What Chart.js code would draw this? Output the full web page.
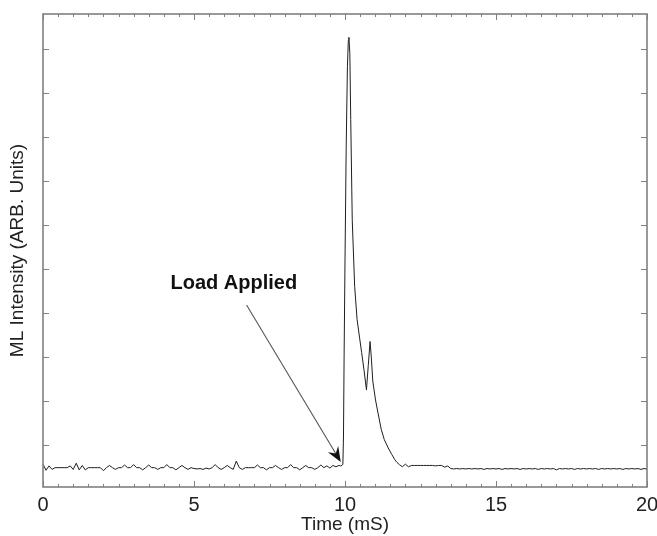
<!DOCTYPE html>
<html>
<head>
<meta charset="utf-8">
<script src="https://cdn.jsdelivr.net/npm/chart.js@4"></script>
<style>
  html, body { margin: 0; padding: 0; background: #fff; }
  #wrap { width: 657px; height: 536px; }
</style>
</head>
<body>
<div id="wrap"><canvas id="mlChart"></canvas></div>
<script>
// Sampled every 0.1 mS before the load and after the decay.
const sampleStep = 0.1;
const preLoadStart = 0;
const preLoadValues = [
  0.56, 0.42, 0.52, 0.44, 0.48, 0.48, 0.48, 0.48, 0.48, 0.52,
  0.44, 0.58, 0.43, 0.53, 0.43, 0.48, 0.48, 0.48, 0.48, 0.48,
  0.41, 0.48, 0.53, 0.48, 0.44, 0.48, 0.48, 0.54, 0.48, 0.48,
  0.55, 0.48, 0.48, 0.43, 0.48, 0.54, 0.48, 0.48, 0.44, 0.48,
  0.48, 0.55, 0.48, 0.48, 0.43, 0.48, 0.53, 0.48, 0.44, 0.48,
  0.46, 0.45, 0.46, 0.44, 0.47, 0.45, 0.48, 0.55, 0.48, 0.44,
  0.48, 0.53, 0.48, 0.44, 0.63, 0.48, 0.44, 0.48, 0.48, 0.48,
  0.48, 0.54, 0.48, 0.48, 0.43, 0.48, 0.48, 0.53, 0.48, 0.44,
  0.48, 0.48, 0.55, 0.48, 0.48, 0.43, 0.48, 0.53, 0.48, 0.48,
  0.44, 0.48, 0.54, 0.48, 0.52, 0.47, 0.53, 0.50, 0.53,
];

// The burst itself, uneven spacing.
const peakTimes = [
  9.85, 9.90, 9.93, 9.95, 9.97, 10.00, 10.04, 10.08, 10.11, 10.13,
  10.16, 10.19, 10.24, 10.32, 10.40, 10.48, 10.55, 10.63, 10.71, 10.77,
  10.83, 10.87, 10.92, 11.01, 11.10, 11.20, 11.30, 11.43, 11.55, 11.65, 11.72,
];
const peakValues = [
  0.52, 0.53, 0.56, 1.2, 3.0, 5.2, 7.8, 9.6, 10.2, 10.27,
  9.9, 8.4, 6.12, 4.6, 3.85, 3.45, 3.1, 2.7, 2.25, 2.8,
  3.35, 3.0, 2.45, 2.02, 1.7, 1.35, 1.12, 0.93, 0.78, 0.66, 0.6,
];

const postStart = 11.8;
const postValues = [
  0.55, 0.50, 0.56, 0.50, 0.53, 0.53, 0.53, 0.53, 0.53, 0.53,
  0.53, 0.53, 0.52, 0.53, 0.53, 0.49, 0.52, 0.46, 0.45, 0.46,
  0.45, 0.46, 0.45, 0.46, 0.45, 0.46, 0.45, 0.46, 0.44, 0.46,
  0.45, 0.46, 0.45, 0.46, 0.44, 0.46, 0.45, 0.46, 0.45, 0.46,
  0.44, 0.46, 0.45, 0.46, 0.45, 0.46, 0.44, 0.46, 0.45, 0.46,
  0.45, 0.46, 0.43, 0.46, 0.45, 0.46, 0.45, 0.46, 0.44, 0.46,
  0.45, 0.46, 0.45, 0.46, 0.45, 0.46, 0.44, 0.46, 0.45, 0.46,
  0.45, 0.46, 0.45, 0.46, 0.44, 0.46, 0.45, 0.46, 0.45, 0.46,
  0.44, 0.46, 0.45,
];

const xMajorTicks = [0, 5, 10, 15, 20];
const xMinorTicks = [
  0.5, 1, 1.5, 2, 2.5, 3, 3.5, 4, 4.5,
  5.5, 6, 6.5, 7, 7.5, 8, 8.5, 9, 9.5,
  10.5, 11, 11.5, 12, 12.5, 13, 13.5, 14, 14.5,
  15.5, 16, 16.5, 17, 17.5, 18, 18.5, 19, 19.5,
];
const yTicks = [1, 2, 3, 4, 5, 6, 7, 8, 9, 10];

// Annotation anchors in data units (time, intensity).
const labelText = 'Load Applied';
const labelAt = [6.32, 4.68];
const arrowFrom = [6.74, 4.18];
const arrowTo = [9.86, 0.61];

const toPoints = (start, values) =>
  values.map((v, i) => ({ x: +(start + i * sampleStep).toFixed(2), y: v }));

const signal = [
  ...toPoints(preLoadStart, preLoadValues),
  ...peakTimes.map((t, i) => ({ x: t, y: peakValues[i] })),
  ...toPoints(postStart, postValues),
];

const frameColor = '#808080';
const fontFamily = '"Liberation Sans", Arial, Helvetica, sans-serif';

const crisp = (v) => Math.round(v) + 0.5;

const frameAndTicks = {
  id: 'frameAndTicks',
  afterDatasetsDraw: (chart) => {
    const { ctx, chartArea: a, scales } = chart;
    const x = scales.x;
    const y = scales.y;
    ctx.save();
    ctx.strokeStyle = frameColor;
    ctx.lineWidth = 1;
    ctx.beginPath();
    const tickX = (t, len) => {
      const px = crisp(x.getPixelForValue(t));
      ctx.moveTo(px, a.bottom);
      ctx.lineTo(px, a.bottom - len);
      ctx.moveTo(px, a.top);
      ctx.lineTo(px, a.top + len);
    };
    xMinorTicks.forEach((t) => tickX(t, 3));
    xMajorTicks.forEach((t) => tickX(t, 6));
    yTicks.forEach((v) => {
      const py = crisp(y.getPixelForValue(v));
      ctx.moveTo(a.left, py);
      ctx.lineTo(a.left + 6, py);
      ctx.moveTo(a.right, py);
      ctx.lineTo(a.right - 6, py);
    });
    ctx.stroke();
    ctx.lineWidth = 1.6;
    ctx.strokeRect(a.left, a.top, a.right - a.left, a.bottom - a.top);
    ctx.restore();
  },
};

const loadArrow = {
  id: 'loadArrow',
  afterDatasetsDraw: (chart) => {
    const { ctx, scales } = chart;
    const x = scales.x;
    const y = scales.y;
    const x0 = x.getPixelForValue(arrowFrom[0]);
    const y0 = y.getPixelForValue(arrowFrom[1]);
    const x1 = x.getPixelForValue(arrowTo[0]);
    const y1 = y.getPixelForValue(arrowTo[1]);
    const ang = Math.atan2(y1 - y0, x1 - x0);
    const headLen = 15;
    const headHalf = 6;
    ctx.save();
    ctx.strokeStyle = '#555';
    ctx.lineWidth = 1.1;
    ctx.beginPath();
    ctx.moveTo(x0, y0);
    ctx.lineTo(x1 - Math.cos(ang) * 8, y1 - Math.sin(ang) * 8);
    ctx.stroke();
    // notched arrow head
    const bx = x1 - Math.cos(ang) * headLen;
    const by = y1 - Math.sin(ang) * headLen;
    const nx = x1 - Math.cos(ang) * headLen * 0.65;
    const ny = y1 - Math.sin(ang) * headLen * 0.65;
    ctx.fillStyle = '#111';
    ctx.beginPath();
    ctx.moveTo(x1, y1);
    ctx.lineTo(bx + Math.sin(ang) * headHalf, by - Math.cos(ang) * headHalf);
    ctx.lineTo(nx, ny);
    ctx.lineTo(bx - Math.sin(ang) * headHalf, by + Math.cos(ang) * headHalf);
    ctx.closePath();
    ctx.fill();

    ctx.font = `bold 20px ${fontFamily}`;
    ctx.fillStyle = '#111';
    ctx.textAlign = 'center';
    ctx.textBaseline = 'middle';
    ctx.fillText(labelText, x.getPixelForValue(labelAt[0]), y.getPixelForValue(labelAt[1]));
    ctx.restore();
  },
};

new Chart(document.getElementById('mlChart').getContext('2d'), {
  type: 'line',
  data: {
    datasets: [
      {
        data: signal,
        borderColor: '#1e1e1e',
        borderWidth: 1,
        pointRadius: 0,
        tension: 0,
        fill: false,
      },
    ],
  },
  options: {
    responsive: true,
    maintainAspectRatio: false,
    devicePixelRatio: 1,
    animation: false,
    events: [],
    layout: { padding: { top: 14, right: 10, left: 0, bottom: 0 } },
    plugins: {
      legend: { display: false },
      tooltip: { enabled: false },
    },
    scales: {
      x: {
        type: 'linear',
        min: 0,
        max: 20,
        grid: { display: false, drawTicks: false },
        border: { display: false },
        ticks: {
          stepSize: 5,
          padding: 6,
          color: '#222',
          font: { family: fontFamily, size: 20 },
          callback: (v) => (xMajorTicks.includes(v) ? String(v) : ''),
        },
        title: {
          display: true,
          text: 'Time (mS)',
          color: '#222',
          font: { family: fontFamily, size: 19 },
          padding: { top: 0, bottom: 0 },
        },
        afterFit: (scale) => {
          scale.height = 49;
          scale.paddingLeft = 0;
          scale.paddingRight = 0;
        },
      },
      y: {
        min: 0.04,
        max: 10.8,
        grid: { display: false, drawTicks: false },
        border: { display: false },
        ticks: { display: false },
        title: {
          display: true,
          text: 'ML Intensity (ARB. Units)',
          color: '#222',
          font: { family: fontFamily, size: 19 },
          padding: { top: 6, bottom: 0 },
        },
        afterFit: (scale) => {
          scale.width = 43;
        },
      },
    },
  },
  plugins: [frameAndTicks, loadArrow],
});
</script>
</body>
</html>
